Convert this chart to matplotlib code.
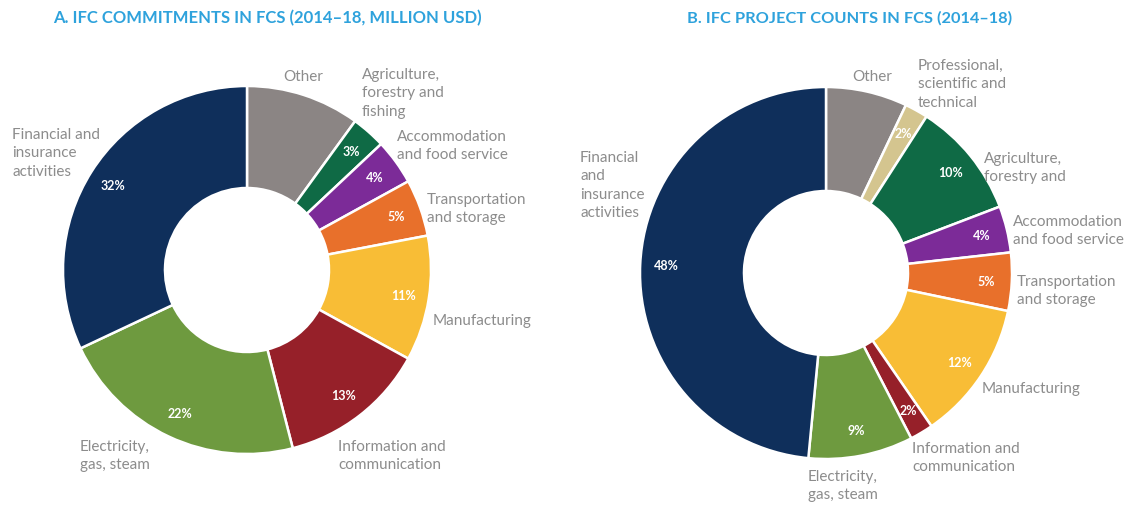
import matplotlib.pyplot as plt

# --- data ---
left_cats = ["Other", "Agriculture, forestry and fishing", "Accommodation and food service",
             "Transportation and storage", "Manufacturing", "Information and communication",
             "Electricity, gas, steam", "Financial and insurance activities"]
left_vals = [10, 3, 4, 5, 11, 13, 22, 32]

right_cats = ["Other", "Professional, scientific and technical", "Agriculture, forestry and",
              "Accommodation and food service", "Transportation and storage", "Manufacturing",
              "Information and communication", "Electricity, gas, steam",
              "Financial and insurance activities"]
right_vals = [7, 2, 10, 4, 5, 12, 2, 9, 48]

left_title = "A. IFC COMMITMENTS IN FCS (2014–18, MILLION USD)"
right_title = "B. IFC PROJECT COUNTS IN FCS (2014–18)"

# --- style ---
W, H = 1142, 506
COLORS = {
    "Other": "#8b8584",
    "Agriculture, forestry and fishing": "#0f6a45",
    "Agriculture, forestry and": "#0f6a45",
    "Professional, scientific and technical": "#d4c58f",
    "Accommodation and food service": "#7c2b98",
    "Transportation and storage": "#e8702b",
    "Manufacturing": "#f8bd36",
    "Information and communication": "#962029",
    "Electricity, gas, steam": "#6e9a3f",
    "Financial and insurance activities": "#0f2f5b",
}
TXT = "#8c8c8c"
TITLE_C = "#2ea2dc"

# label layout (x, y of top-left in pixels, text)
left_labels = [
    (283, 70, "Other"),
    (362, 68, "Agriculture,\nforestry and\nfishing"),
    (397, 130, "Accommodation\nand food service"),
    (427, 193, "Transportation\nand storage"),
    (433, 314, "Manufacturing"),
    (338, 440, "Information and\ncommunication"),
    (80, 440, "Electricity,\ngas, steam"),
    (12, 128, "Financial and\ninsurance\nactivities"),
]
right_labels = [
    (852, 70, "Other"),
    (918, 59, "Professional,\nscientific and\ntechnical"),
    (984, 152, "Agriculture,\nforestry and"),
    (1013, 215, "Accommodation\nand food service"),
    (1017, 275, "Transportation\nand storage"),
    (982, 382, "Manufacturing"),
    (912, 442, "Information and\ncommunication"),
    (808, 470, "Electricity,\ngas, steam"),
    (580, 151, "Financial\nand\ninsurance\nactivities"),
]

plt.rcParams['font.family'] = ['Lato', 'DejaVu Sans']

fig = plt.figure(figsize=(W / 100, H / 100), dpi=100)
ax = fig.add_axes([0, 0, 1, 1])
ax.axis('off')


def donut(cats, vals, cx, cy, r, inner):
    wedges, _, autotexts = ax.pie(
        vals, colors=[COLORS[c] for c in cats], center=(cx, H - cy), radius=r,
        startangle=90, counterclock=False, autopct=lambda p: f"{p:.0f}%",
        pctdistance=0.86, wedgeprops=dict(width=r - inner, edgecolor='white', linewidth=1.8),
        textprops=dict(color='white', fontsize=9, fontweight='bold'))
    for t, v, c in zip(autotexts, vals, cats):
        # the grey "Other" slice carries no share label
        t.set_text("" if c == "Other" else f"{v}%")


donut(left_cats, left_vals, 247, 271, 184, 82)
donut(right_cats, right_vals, 826, 274, 186, 82)

for x, y, s in left_labels + right_labels:
    ax.text(x, H - y, s, color=TXT, fontsize=11, ha='left', va='top', linespacing=1.4)

ax.text(267, H - 18, left_title, color=TITLE_C, fontsize=12, fontweight='bold',
        ha='center', va='center')
ax.text(850, H - 18, right_title, color=TITLE_C, fontsize=11.8, fontweight='bold',
        ha='center', va='center')

ax.set_xlim(0, W)
ax.set_ylim(0, H)
ax.set_aspect('equal')
fig.savefig("out.png", dpi=100)
